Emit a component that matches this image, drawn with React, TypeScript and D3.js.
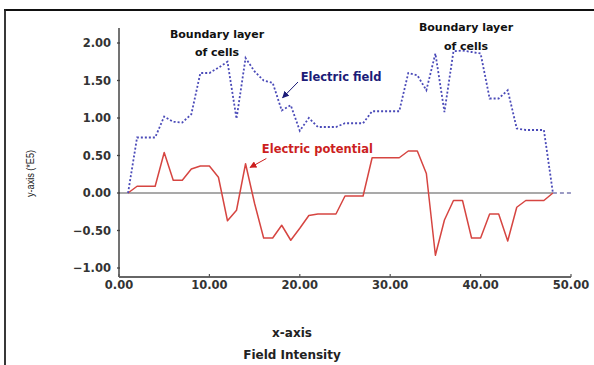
import React, { useEffect, useRef } from 'react';
import * as d3 from 'd3';

// x positions (Field Intensity)
const xs = [
  1, 2, 3, 4, 5, 6, 7, 8, 9, 10, 11, 12, 13, 14, 15, 16, 17, 18, 19, 20, 21, 22, 23, 24,
  25, 26, 27, 28, 29, 30, 31, 32, 33, 34, 35, 36, 37, 38, 39, 40, 41, 42, 43, 44, 45, 46, 47, 48,
];

const electricField = [
  0, 0.74, 0.74, 0.74, 1.02, 0.95, 0.94, 1.05, 1.6, 1.6, 1.67, 1.75, 0.99, 1.8, 1.62, 1.5,
  1.47, 1.1, 1.17, 0.83, 1.0, 0.88, 0.88, 0.88, 0.93, 0.93, 0.93, 1.09, 1.09, 1.09, 1.09, 1.6,
  1.57, 1.37, 1.86, 1.08, 1.89, 1.9, 1.88, 1.86, 1.26, 1.26, 1.37, 0.86, 0.84, 0.84, 0.84, 0,
];

const electricPotential = [
  0, 0.09, 0.09, 0.09, 0.54, 0.17, 0.17, 0.32, 0.36, 0.36, 0.21, -0.37, -0.23, 0.39, -0.14, -0.6,
  -0.6, -0.43, -0.63, -0.47, -0.3, -0.28, -0.28, -0.28, -0.04, -0.04, -0.04, 0.47, 0.47, 0.47, 0.47, 0.56,
  0.56, 0.26, -0.83, -0.36, -0.1, -0.1, -0.6, -0.6, -0.28, -0.28, -0.64, -0.19, -0.1, -0.1, -0.1, 0,
];

// field continues along zero to the end of the axis
const fieldTailX = [48, 49, 50];
const fieldTailY = [0, 0, 0];

const xTicks = [0, 10, 20, 30, 40, 50];
const yTicks = [-1, -0.5, 0, 0.5, 1, 1.5, 2];

const W = 594;
const H = 365;

const App: React.FC = () => {
  const svgRef = useRef<SVGSVGElement>(null);

  useEffect(() => {
    if (!svgRef.current) return;
    const svg = d3.select(svgRef.current);
    svg.selectAll('*').remove();

    const x = d3.scaleLinear().domain([0, 50]).range([119, 571]);
    const y = d3.scaleLinear().domain([-1.12, 2.2]).range([277, 28]);

    const tickFont = 'DejaVu Sans, Verdana, sans-serif';

    svg.append('rect').attr('width', W).attr('height', H).attr('fill', '#fff');

    // frame (only top & left visible)
    svg.append('line').attr('x1', 4).attr('x2', W).attr('y1', 10).attr('y2', 10)
      .attr('stroke', '#111').attr('stroke-width', 2.2);
    svg.append('line').attr('x1', 5).attr('x2', 5).attr('y1', 9).attr('y2', H)
      .attr('stroke', '#222').attr('stroke-width', 1.8);

    const defs = svg.append('defs');
    const marker = (id: string, color: string) =>
      defs.append('marker')
        .attr('id', id)
        .attr('viewBox', '0 0 10 10')
        .attr('refX', 9)
        .attr('refY', 5)
        .attr('markerWidth', 7)
        .attr('markerHeight', 7)
        .attr('orient', 'auto')
        .append('path')
        .attr('d', 'M0,0 L10,5 L0,10 z')
        .attr('fill', color);
    marker('arrowBlue', '#1c1c78');
    marker('arrowRed', '#cc1f1f');

    // zero line
    svg.append('line')
      .attr('x1', x(0)).attr('x2', x(48))
      .attr('y1', y(0)).attr('y2', y(0))
      .attr('stroke', '#555').attr('stroke-width', 1.2);

    // y axis
    svg.append('line')
      .attr('x1', x(0)).attr('x2', x(0))
      .attr('y1', y(2.2)).attr('y2', y(-1.12))
      .attr('stroke', '#444').attr('stroke-width', 1.5);
    yTicks.forEach(t => {
      svg.append('line')
        .attr('x1', x(0) - 2).attr('x2', x(0) + 1)
        .attr('y1', y(t)).attr('y2', y(t))
        .attr('stroke', '#444').attr('stroke-width', 1.3);
      svg.append('text')
        .attr('x', 111).attr('y', y(t))
        .attr('dy', '0.36em')
        .attr('text-anchor', 'end')
        .style('font-family', tickFont)
        .style('font-weight', 'bold')
        .style('font-size', '11.5px')
        .attr('fill', '#333')
        .text(d3.format('.2f')(t));
    });

    // x axis
    svg.append('line')
      .attr('x1', x(0)).attr('x2', x(50))
      .attr('y1', 277).attr('y2', 277)
      .attr('stroke', '#666').attr('stroke-width', 2);
    xTicks.forEach(t => {
      svg.append('line')
        .attr('x1', x(t)).attr('x2', x(t))
        .attr('y1', 274).attr('y2', 277)
        .attr('stroke', '#555').attr('stroke-width', 1.2);
      svg.append('text')
        .attr('x', x(t)).attr('y', 289)
        .attr('text-anchor', 'middle')
        .style('font-family', tickFont)
        .style('font-weight', 'bold')
        .style('font-size', '11.5px')
        .attr('fill', '#333')
        .text(d3.format('.2f')(t));
    });

    const line = d3.line<[number, number]>()
      .x(d => x(d[0]))
      .y(d => y(d[1]));

    // electric potential
    svg.append('path')
      .datum(xs.map((v, i) => [v, electricPotential[i]] as [number, number]))
      .attr('fill', 'none')
      .attr('stroke', '#d64541')
      .attr('stroke-width', 1.5)
      .attr('stroke-linejoin', 'round')
      .attr('d', line);

    // electric field (dotted)
    svg.append('path')
      .datum(xs.map((v, i) => [v, electricField[i]] as [number, number]))
      .attr('fill', 'none')
      .attr('stroke', '#4a4ab8')
      .attr('stroke-width', 1.8)
      .attr('stroke-dasharray', '2,2')
      .attr('d', line);
    svg.append('path')
      .datum(fieldTailX.map((v, i) => [v, fieldTailY[i]] as [number, number]))
      .attr('fill', 'none')
      .attr('stroke', '#7a7ab0')
      .attr('stroke-width', 1.5)
      .attr('stroke-dasharray', '4,3')
      .attr('d', line);

    // annotations
    const annot = (tx: number, ty: number, str: string, color: string, size: string, anchor = 'middle') =>
      svg.append('text')
        .attr('x', tx).attr('y', ty)
        .attr('text-anchor', anchor)
        .style('font-family', tickFont)
        .style('font-weight', 'bold')
        .style('font-size', size)
        .attr('fill', color)
        .text(str);

    annot(217, 38, 'Boundary layer', '#111', '11px');
    annot(217, 56, 'of cells', '#111', '11px');
    annot(466, 31, 'Boundary layer', '#111', '11px');
    annot(466, 50, 'of cells', '#111', '11px');
    annot(x(20.1), y(1.5), 'Electric field', '#1c1c78', '11.5px', 'start');
    annot(x(15.8), y(0.53), 'Electric potential', '#cc1f1f', '11.5px', 'start');

    svg.append('line')
      .attr('x1', x(19.8)).attr('y1', y(1.48))
      .attr('x2', x(18.1)).attr('y2', y(1.27))
      .attr('stroke', '#1c1c78').attr('stroke-width', 1)
      .attr('marker-end', 'url(#arrowBlue)');
    svg.append('line')
      .attr('x1', x(16.3)).attr('y1', y(0.46))
      .attr('x2', x(14.5)).attr('y2', y(0.34))
      .attr('stroke', '#cc1f1f').attr('stroke-width', 1)
      .attr('marker-end', 'url(#arrowRed)');

    // axis titles
    svg.append('text')
      .attr('transform', 'translate(34,173.5) rotate(-90)')
      .attr('text-anchor', 'middle')
      .attr('textLength', 47)
      .attr('lengthAdjust', 'spacingAndGlyphs')
      .style('font-family', 'Liberation Sans, Arial, sans-serif')
      .style('font-size', '10.5px')
      .attr('fill', '#222')
      .text('y-axis (*E5)');

    annot(292, 337, 'x-axis', '#222', '12px');
    annot(292, 359, 'Field Intensity', '#222', '12px');
  }, []);

  return (
    <svg
      ref={svgRef}
      width={W}
      height={H}
      style={{ position: 'absolute', left: 0, top: 0, display: 'block' }}
    />
  );
};

export default App;
